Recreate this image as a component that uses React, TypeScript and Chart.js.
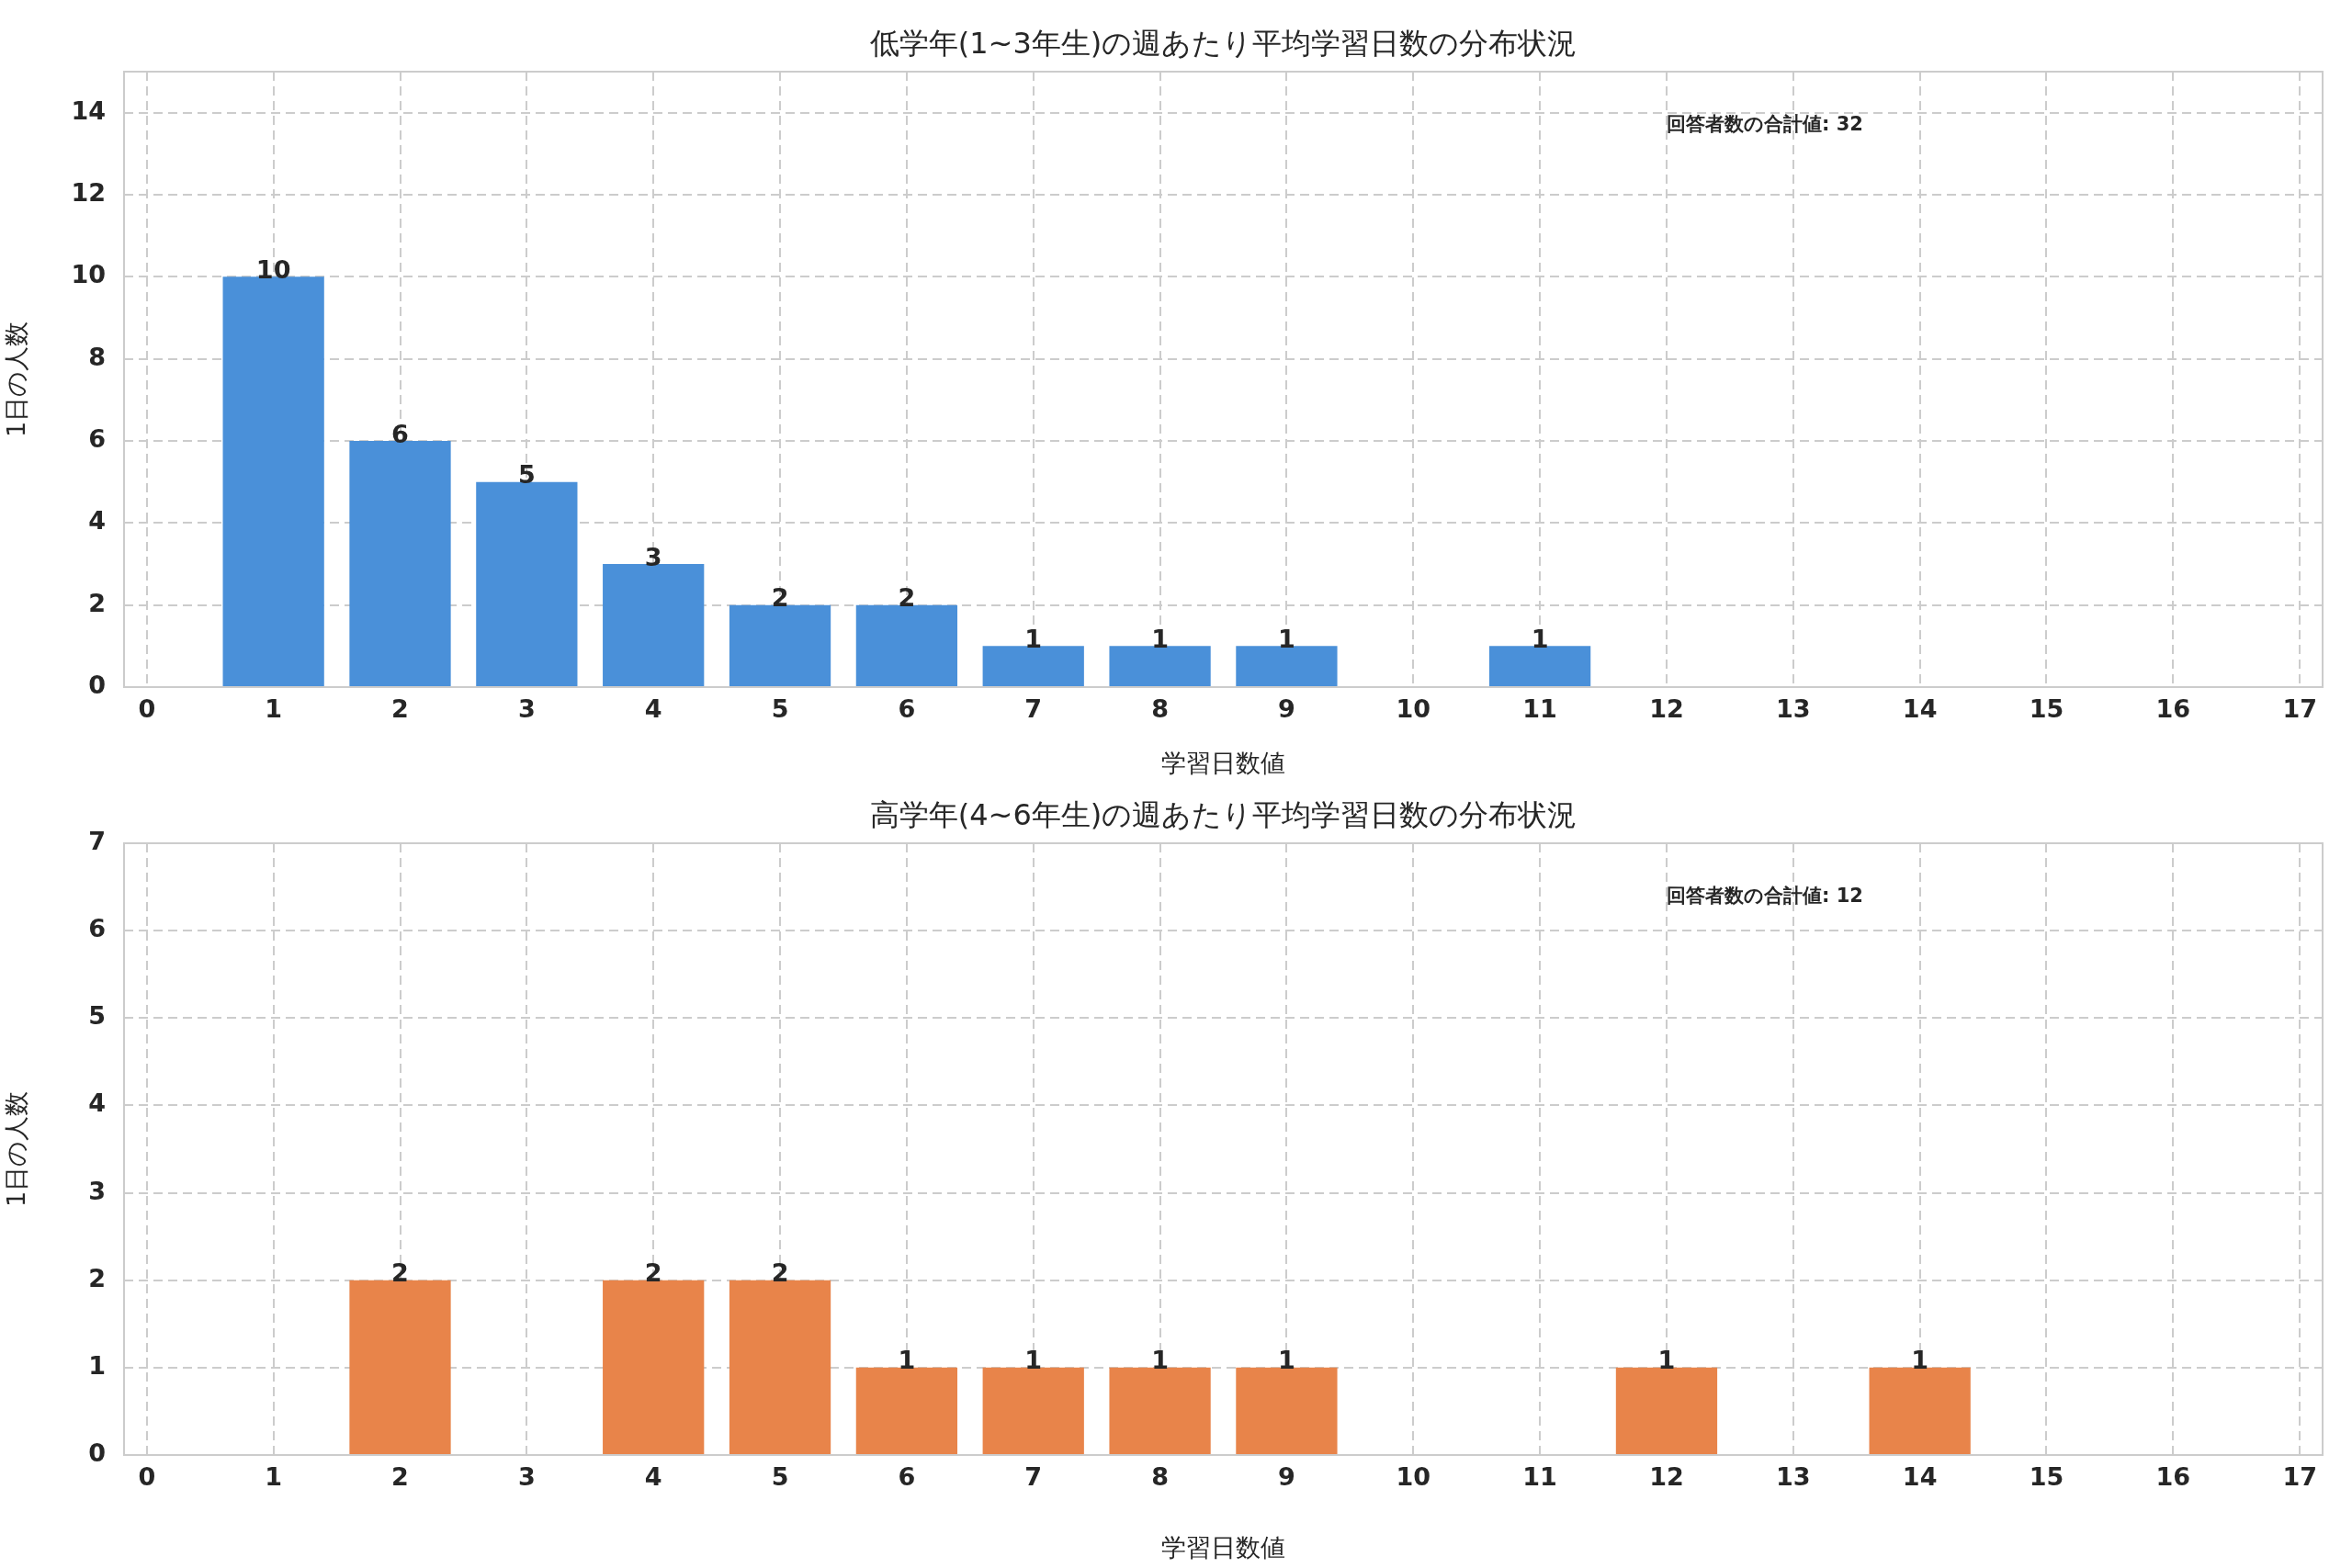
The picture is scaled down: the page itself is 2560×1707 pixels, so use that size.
import React, { useEffect, useRef } from "react";
import { Chart, registerables } from "chart.js";
Chart.register(...registerables);

const lowerX = [1, 2, 3, 4, 5, 6, 7, 8, 9, 11];
const lowerY = [10, 6, 5, 3, 2, 2, 1, 1, 1, 1];
const upperX = [2, 4, 5, 6, 7, 8, 9, 12, 14];
const upperY = [2, 2, 2, 1, 1, 1, 1, 1, 1];
const titles = ["低学年(1~3年生)の週あたり平均学習日数の分布状況", "高学年(4~6年生)の週あたり平均学習日数の分布状況"];
const xLabel = "学習日数値";
const yLabel = "1日の人数";
const noteText = ["回答者数の合計値: 32", "回答者数の合計値: 12"];

const FONT = "'DejaVu Sans', sans-serif";

function makeChart(canvas: HTMLCanvasElement, xs: number[], ys: number[], color: string, yMax: number, step: number, tickMax: number, title: string, note: string, top: number, xh: number) {
  const deco = {
    id: "deco",
    afterDatasetsDraw(c: any) {
      const ctx = c.ctx;
      const a = c.chartArea;
      const xs_ = c.scales.x, ys_ = c.scales.y;
      ctx.save();
      ctx.setLineDash([]);
      ctx.strokeStyle = "#cccccc";
      ctx.lineWidth = 2;
      ctx.strokeRect(a.left, a.top, a.right - a.left, a.bottom - a.top);
      ctx.fillStyle = "#262626";
      ctx.font = `32px ${FONT}`;
      ctx.textAlign = "center";
      ctx.textBaseline = "bottom";
      ctx.fillText(title, (a.left + a.right) / 2, a.top - 12);
      ctx.font = `bold 27px ${FONT}`;
      xs.forEach((x, i) => {
        ctx.fillText(String(ys[i]), xs_.getPixelForValue(x), ys_.getPixelForValue(ys[i]) + 8);
      });
      ctx.font = `bold 21px ${FONT}`;
      ctx.textAlign = "left";
      ctx.textBaseline = "middle";
      ctx.fillText(note, xs_.getPixelForValue(12), a.top + (a.bottom - a.top) * 0.088);
      ctx.restore();
    },
  };
  return new Chart(canvas, {
    type: "bar",
    data: {
      datasets: [{ data: xs.map((x, i) => ({ x, y: ys[i] })), backgroundColor: color, barPercentage: 1, categoryPercentage: 0.8 }],
    },
    options: {
      animation: false,
      responsive: false,
      devicePixelRatio: 1,
      layout: { padding: { top, right: 32, left: 0, bottom: 0 } },
      plugins: { legend: { display: false }, tooltip: { enabled: false } },
      scales: {
        x: {
          type: "linear",
          offset: false,
          min: -0.18,
          max: 17.18,
          afterBuildTicks: (s: any) => { s.ticks = Array.from({ length: 18 }, (_, i) => ({ value: i })); },
          afterFit: (s: any) => { s.height = xh; },
          grid: { color: "#cccccc", lineWidth: 2, tickLength: 0, offset: false },
          border: { display: false, dash: [10, 6] },
          ticks: { color: "#262626", font: { family: FONT, size: 27, weight: "bold" }, padding: 10 },
          title: { display: true, text: xLabel, color: "#262626", font: { family: FONT, size: 27 }, padding: { top: 2 } },
        },
        y: {
          min: 0,
          max: yMax,
          afterBuildTicks: (s: any) => { const t = []; for (let v = 0; v <= tickMax; v += step) t.push({ value: v }); s.ticks = t; },
          afterFit: (s: any) => { s.width = 135; },
          grid: { color: "#cccccc", lineWidth: 2, tickLength: 0 },
          border: { display: false, dash: [10, 6] },
          ticks: { color: "#262626", font: { family: FONT, size: 27, weight: "bold" }, padding: 20 },
          title: { display: true, text: yLabel, color: "#262626", font: { family: FONT, size: 27 }, padding: { bottom: 0 } },
        },
      } as any,
    },
    plugins: [deco],
  } as any);
}

export default function App() {
  const r1 = useRef<HTMLCanvasElement>(null);
  const r2 = useRef<HTMLCanvasElement>(null);
  useEffect(() => {
    const c1 = makeChart(r1.current!, lowerX, lowerY, "#4a90d9", 15, 2, 14, titles[0], noteText[0], 78, 105);
    const c2 = makeChart(r2.current!, upperX, upperY, "#e8844a", 7, 1, 7, titles[1], noteText[1], 65, 123);
    return () => { c1.destroy(); c2.destroy(); };
  }, []);
  return (
    <div style={{ position: "fixed", left: 0, top: 0, width: 2560, height: 1707, background: "#fff" }}>
      <canvas ref={r1} width={2560} height={853} style={{ display: "block", width: 2560, height: 853 }} />
      <canvas ref={r2} width={2560} height={854} style={{ display: "block", width: 2560, height: 854 }} />
    </div>
  );
}
